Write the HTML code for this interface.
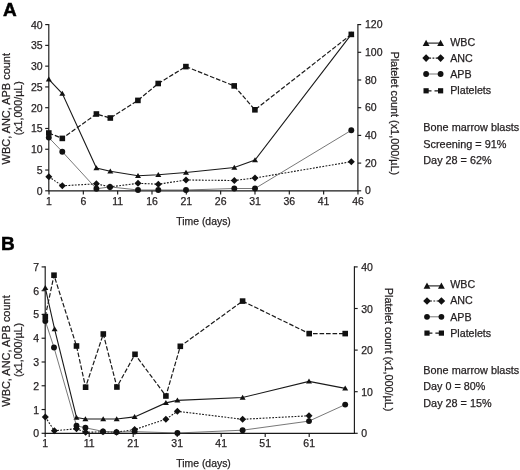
<!DOCTYPE html>
<html><head><meta charset="utf-8"><title>Figure</title>
<style>
html,body{margin:0;padding:0;background:#fff;}
body{width:520px;height:470px;overflow:hidden;}
svg{display:block;font-family:"Liberation Sans", sans-serif;fill:#231f20;will-change:transform;transform:translateZ(0);}
text{stroke:#231f20;stroke-width:0.25px;}
</style></head><body>
<svg width="520" height="470" viewBox="0 0 520 470">
<rect x="0" y="0" width="520" height="470" fill="#fff"/>
<text x="3.0" y="15.6" font-size="19" font-weight="bold" style="fill:#000;stroke:#000;stroke-width:0.5px">A</text>
<path d="M48.8 24.0 V190.8 H357.9 V24.0" fill="none" stroke="#1a1a1a" stroke-width="1.15"/>
<path d="M45.199999999999996 190.8 H48.8" stroke="#1a1a1a" stroke-width="1.15"/>
<text x="42.599999999999994" y="194.8" font-size="10.5" text-anchor="end">0</text>
<path d="M45.199999999999996 170.03 H48.8" stroke="#1a1a1a" stroke-width="1.15"/>
<text x="42.599999999999994" y="174.03" font-size="10.5" text-anchor="end">5</text>
<path d="M45.199999999999996 149.25 H48.8" stroke="#1a1a1a" stroke-width="1.15"/>
<text x="42.599999999999994" y="153.25" font-size="10.5" text-anchor="end">10</text>
<path d="M45.199999999999996 128.48 H48.8" stroke="#1a1a1a" stroke-width="1.15"/>
<text x="42.599999999999994" y="132.48" font-size="10.5" text-anchor="end">15</text>
<path d="M45.199999999999996 107.7 H48.8" stroke="#1a1a1a" stroke-width="1.15"/>
<text x="42.599999999999994" y="111.7" font-size="10.5" text-anchor="end">20</text>
<path d="M45.199999999999996 86.93 H48.8" stroke="#1a1a1a" stroke-width="1.15"/>
<text x="42.599999999999994" y="90.93" font-size="10.5" text-anchor="end">25</text>
<path d="M45.199999999999996 66.15 H48.8" stroke="#1a1a1a" stroke-width="1.15"/>
<text x="42.599999999999994" y="70.15" font-size="10.5" text-anchor="end">30</text>
<path d="M45.199999999999996 45.38 H48.8" stroke="#1a1a1a" stroke-width="1.15"/>
<text x="42.599999999999994" y="49.38" font-size="10.5" text-anchor="end">35</text>
<path d="M45.199999999999996 24.6 H48.8" stroke="#1a1a1a" stroke-width="1.15"/>
<text x="42.599999999999994" y="28.6" font-size="10.5" text-anchor="end">40</text>
<path d="M357.9 190.8 H361.2" stroke="#1a1a1a" stroke-width="1.15"/>
<text x="365.0" y="194.4" font-size="10.5">0</text>
<path d="M357.9 163.1 H361.2" stroke="#1a1a1a" stroke-width="1.15"/>
<text x="365.0" y="166.7" font-size="10.5">20</text>
<path d="M357.9 135.4 H361.2" stroke="#1a1a1a" stroke-width="1.15"/>
<text x="365.0" y="139.0" font-size="10.5">40</text>
<path d="M357.9 107.7 H361.2" stroke="#1a1a1a" stroke-width="1.15"/>
<text x="365.0" y="111.3" font-size="10.5">60</text>
<path d="M357.9 80.0 H361.2" stroke="#1a1a1a" stroke-width="1.15"/>
<text x="365.0" y="83.6" font-size="10.5">80</text>
<path d="M357.9 52.3 H361.2" stroke="#1a1a1a" stroke-width="1.15"/>
<text x="365.0" y="55.9" font-size="10.5">100</text>
<path d="M357.9 24.6 H361.2" stroke="#1a1a1a" stroke-width="1.15"/>
<text x="365.0" y="28.2" font-size="10.5">120</text>
<path d="M49.0 190.8 V194.4" stroke="#1a1a1a" stroke-width="1.15"/>
<text x="49.0" y="205.2" font-size="10.5" text-anchor="middle">1</text>
<path d="M83.33 190.8 V194.4" stroke="#1a1a1a" stroke-width="1.15"/>
<text x="83.33" y="205.2" font-size="10.5" text-anchor="middle">6</text>
<path d="M117.66 190.8 V194.4" stroke="#1a1a1a" stroke-width="1.15"/>
<text x="117.66" y="205.2" font-size="10.5" text-anchor="middle">11</text>
<path d="M151.99 190.8 V194.4" stroke="#1a1a1a" stroke-width="1.15"/>
<text x="151.99" y="205.2" font-size="10.5" text-anchor="middle">16</text>
<path d="M186.32 190.8 V194.4" stroke="#1a1a1a" stroke-width="1.15"/>
<text x="186.32" y="205.2" font-size="10.5" text-anchor="middle">21</text>
<path d="M220.65 190.8 V194.4" stroke="#1a1a1a" stroke-width="1.15"/>
<text x="220.65" y="205.2" font-size="10.5" text-anchor="middle">26</text>
<path d="M254.98 190.8 V194.4" stroke="#1a1a1a" stroke-width="1.15"/>
<text x="254.98" y="205.2" font-size="10.5" text-anchor="middle">31</text>
<path d="M289.31 190.8 V194.4" stroke="#1a1a1a" stroke-width="1.15"/>
<text x="289.31" y="205.2" font-size="10.5" text-anchor="middle">36</text>
<path d="M323.64 190.8 V194.4" stroke="#1a1a1a" stroke-width="1.15"/>
<text x="323.64" y="205.2" font-size="10.5" text-anchor="middle">41</text>
<path d="M357.97 190.8 V194.4" stroke="#1a1a1a" stroke-width="1.15"/>
<text x="357.97" y="205.2" font-size="10.5" text-anchor="middle">46</text>
<path d="M48.80 133.00 L62.30 138.40 L96.40 114.00 L110.30 118.00 L137.90 100.40 L158.20 83.50 L185.90 66.60 L234.20 85.90 L254.90 109.80 L351.30 34.40" fill="none" stroke="#1a1a1a" stroke-width="1.2" stroke-dasharray="4.6 1.9"/>
<rect x="46.00" y="130.20" width="5.6" height="5.6" fill="#111"/>
<rect x="59.50" y="135.60" width="5.6" height="5.6" fill="#111"/>
<rect x="93.60" y="111.20" width="5.6" height="5.6" fill="#111"/>
<rect x="107.50" y="115.20" width="5.6" height="5.6" fill="#111"/>
<rect x="135.10" y="97.60" width="5.6" height="5.6" fill="#111"/>
<rect x="155.40" y="80.70" width="5.6" height="5.6" fill="#111"/>
<rect x="183.10" y="63.80" width="5.6" height="5.6" fill="#111"/>
<rect x="231.40" y="83.10" width="5.6" height="5.6" fill="#111"/>
<rect x="252.10" y="107.00" width="5.6" height="5.6" fill="#111"/>
<rect x="348.50" y="31.60" width="5.6" height="5.6" fill="#111"/>
<path d="M48.80 79.40 L62.30 93.50 L96.40 168.00 L110.30 171.30 L138.00 175.80 L158.30 174.80 L186.00 172.50 L234.30 167.50 L255.00 160.00 L351.30 34.40" fill="none" stroke="#1a1a1a" stroke-width="1.1"/>
<path d="M48.80 76.60 L51.80 81.60 L45.80 81.60 Z" fill="#111"/>
<path d="M62.30 90.70 L65.30 95.70 L59.30 95.70 Z" fill="#111"/>
<path d="M96.40 165.20 L99.40 170.20 L93.40 170.20 Z" fill="#111"/>
<path d="M110.30 168.50 L113.30 173.50 L107.30 173.50 Z" fill="#111"/>
<path d="M138.00 173.00 L141.00 178.00 L135.00 178.00 Z" fill="#111"/>
<path d="M158.30 172.00 L161.30 177.00 L155.30 177.00 Z" fill="#111"/>
<path d="M186.00 169.70 L189.00 174.70 L183.00 174.70 Z" fill="#111"/>
<path d="M234.30 164.70 L237.30 169.70 L231.30 169.70 Z" fill="#111"/>
<path d="M255.00 157.20 L258.00 162.20 L252.00 162.20 Z" fill="#111"/>
<path d="M351.30 31.60 L354.30 36.60 L348.30 36.60 Z" fill="#111"/>
<path d="M48.80 176.80 L62.30 185.80 L96.40 183.80 L110.00 186.90 L138.00 183.30 L158.30 184.20 L186.00 180.00 L234.30 180.50 L255.00 178.00 L351.30 161.70" fill="none" stroke="#1a1a1a" stroke-width="1.1" stroke-dasharray="1.8 1.4"/>
<path d="M48.80 173.30 L52.30 176.80 L48.80 180.30 L45.30 176.80 Z" fill="#111"/>
<path d="M62.30 182.30 L65.80 185.80 L62.30 189.30 L58.80 185.80 Z" fill="#111"/>
<path d="M96.40 180.30 L99.90 183.80 L96.40 187.30 L92.90 183.80 Z" fill="#111"/>
<path d="M110.00 183.40 L113.50 186.90 L110.00 190.40 L106.50 186.90 Z" fill="#111"/>
<path d="M138.00 179.80 L141.50 183.30 L138.00 186.80 L134.50 183.30 Z" fill="#111"/>
<path d="M158.30 180.70 L161.80 184.20 L158.30 187.70 L154.80 184.20 Z" fill="#111"/>
<path d="M186.00 176.50 L189.50 180.00 L186.00 183.50 L182.50 180.00 Z" fill="#111"/>
<path d="M234.30 177.00 L237.80 180.50 L234.30 184.00 L230.80 180.50 Z" fill="#111"/>
<path d="M255.00 174.50 L258.50 178.00 L255.00 181.50 L251.50 178.00 Z" fill="#111"/>
<path d="M351.30 158.20 L354.80 161.70 L351.30 165.20 L347.80 161.70 Z" fill="#111"/>
<path d="M48.80 137.60 L62.30 151.70 L96.40 188.80 L110.00 186.90 L138.00 190.00 L158.30 190.00 L186.00 190.00 L234.30 188.50 L255.00 188.50 L351.30 130.30" fill="none" stroke="#555" stroke-width="0.8"/>
<circle cx="48.80" cy="137.60" r="2.95" fill="#111"/>
<circle cx="62.30" cy="151.70" r="2.95" fill="#111"/>
<circle cx="96.40" cy="188.80" r="2.95" fill="#111"/>
<circle cx="110.00" cy="186.90" r="2.95" fill="#111"/>
<circle cx="138.00" cy="190.00" r="2.95" fill="#111"/>
<circle cx="158.30" cy="190.00" r="2.95" fill="#111"/>
<circle cx="186.00" cy="190.00" r="2.95" fill="#111"/>
<circle cx="234.30" cy="188.50" r="2.95" fill="#111"/>
<circle cx="255.00" cy="188.50" r="2.95" fill="#111"/>
<circle cx="351.30" cy="130.30" r="2.95" fill="#111"/>
<text x="9.6" y="164.4" font-size="10.8" textLength="111.4" lengthAdjust="spacingAndGlyphs" transform="rotate(-90 9.6 164.4)">WBC, ANC, APB count</text>
<text x="22.0" y="135.35" font-size="10.8" textLength="54.1" lengthAdjust="spacingAndGlyphs" transform="rotate(-90 22.0 135.35)">(x1,000/µL)</text>
<text x="391.1" y="51.5" font-size="10.8" textLength="123.6" lengthAdjust="spacingAndGlyphs" transform="rotate(90 391.1 51.5)">Platelet count (x1,000/µL)</text>
<text x="176.3" y="225.1" font-size="10.8" textLength="54.5" lengthAdjust="spacingAndGlyphs">Time (days)</text>
<path d="M426.1 43.1 H440.6" stroke="#1a1a1a" stroke-width="1.1"/>
<path d="M426.10 39.70 L429.50 45.90 L422.70 45.90 Z" fill="#111"/>
<path d="M440.60 39.70 L444.00 45.90 L437.20 45.90 Z" fill="#111"/>
<text x="450.2" y="45.9" font-size="10.7">WBC</text>
<path d="M426.1 58.1 H440.6" stroke="#1a1a1a" stroke-width="1.1" stroke-dasharray="1.8 1.4"/>
<path d="M426.10 54.30 L429.90 58.10 L426.10 61.90 L422.30 58.10 Z" fill="#111"/>
<path d="M440.60 54.30 L444.40 58.10 L440.60 61.90 L436.80 58.10 Z" fill="#111"/>
<text x="450.2" y="61.95" font-size="10.7">ANC</text>
<path d="M426.1 74.0 H440.6" stroke="#555" stroke-width="0.8"/>
<circle cx="426.10" cy="74.00" r="2.9" fill="#111"/>
<circle cx="440.60" cy="74.00" r="2.9" fill="#111"/>
<text x="450.2" y="78.0" font-size="10.7">APB</text>
<path d="M426.1 90.8 H440.6" stroke="#1a1a1a" stroke-width="1.2" stroke-dasharray="5.4 3 10"/>
<rect x="423.50" y="88.20" width="5.2" height="5.2" fill="#111"/>
<rect x="438.00" y="88.20" width="5.2" height="5.2" fill="#111"/>
<text x="450.2" y="94.05" font-size="10.7">Platelets</text>
<text x="423.3" y="131.3" font-size="10.7" textLength="96.0" lengthAdjust="spacingAndGlyphs">Bone marrow blasts</text>
<text x="423.3" y="147.6" font-size="10.7" textLength="83.2" lengthAdjust="spacingAndGlyphs">Screening = 91%</text>
<text x="423.3" y="163.7" font-size="10.7" textLength="68.3" lengthAdjust="spacingAndGlyphs">Day 28 = 62%</text>
<text x="0.9" y="250.4" font-size="19" font-weight="bold" style="fill:#000;stroke:#000;stroke-width:0.5px">B</text>
<path d="M45.2 266.29999999999995 V433.3 H354.4 V266.29999999999995" fill="none" stroke="#1a1a1a" stroke-width="1.15"/>
<path d="M41.6 433.3 H45.2" stroke="#1a1a1a" stroke-width="1.15"/>
<text x="39.0" y="437.3" font-size="10.5" text-anchor="end">0</text>
<path d="M41.6 409.53 H45.2" stroke="#1a1a1a" stroke-width="1.15"/>
<text x="39.0" y="413.53" font-size="10.5" text-anchor="end">1</text>
<path d="M41.6 385.76 H45.2" stroke="#1a1a1a" stroke-width="1.15"/>
<text x="39.0" y="389.76" font-size="10.5" text-anchor="end">2</text>
<path d="M41.6 361.99 H45.2" stroke="#1a1a1a" stroke-width="1.15"/>
<text x="39.0" y="365.99" font-size="10.5" text-anchor="end">3</text>
<path d="M41.6 338.22 H45.2" stroke="#1a1a1a" stroke-width="1.15"/>
<text x="39.0" y="342.22" font-size="10.5" text-anchor="end">4</text>
<path d="M41.6 314.45 H45.2" stroke="#1a1a1a" stroke-width="1.15"/>
<text x="39.0" y="318.45" font-size="10.5" text-anchor="end">5</text>
<path d="M41.6 290.68 H45.2" stroke="#1a1a1a" stroke-width="1.15"/>
<text x="39.0" y="294.68" font-size="10.5" text-anchor="end">6</text>
<path d="M41.6 266.91 H45.2" stroke="#1a1a1a" stroke-width="1.15"/>
<text x="39.0" y="270.91" font-size="10.5" text-anchor="end">7</text>
<path d="M354.4 433.3 H357.7" stroke="#1a1a1a" stroke-width="1.15"/>
<text x="361.2" y="437.4" font-size="10.5">0</text>
<path d="M354.4 391.7 H357.7" stroke="#1a1a1a" stroke-width="1.15"/>
<text x="361.2" y="395.8" font-size="10.5">10</text>
<path d="M354.4 350.1 H357.7" stroke="#1a1a1a" stroke-width="1.15"/>
<text x="361.2" y="354.2" font-size="10.5">20</text>
<path d="M354.4 308.5 H357.7" stroke="#1a1a1a" stroke-width="1.15"/>
<text x="361.2" y="312.6" font-size="10.5">30</text>
<path d="M354.4 266.9 H357.7" stroke="#1a1a1a" stroke-width="1.15"/>
<text x="361.2" y="271.0" font-size="10.5">40</text>
<path d="M45.2 433.3 V436.90000000000003" stroke="#1a1a1a" stroke-width="1.15"/>
<text x="45.2" y="447.1" font-size="10.5" text-anchor="middle">1</text>
<path d="M89.2 433.3 V436.90000000000003" stroke="#1a1a1a" stroke-width="1.15"/>
<text x="89.2" y="447.1" font-size="10.5" text-anchor="middle">11</text>
<path d="M133.2 433.3 V436.90000000000003" stroke="#1a1a1a" stroke-width="1.15"/>
<text x="133.2" y="447.1" font-size="10.5" text-anchor="middle">21</text>
<path d="M177.2 433.3 V436.90000000000003" stroke="#1a1a1a" stroke-width="1.15"/>
<text x="177.2" y="447.1" font-size="10.5" text-anchor="middle">31</text>
<path d="M221.2 433.3 V436.90000000000003" stroke="#1a1a1a" stroke-width="1.15"/>
<text x="221.2" y="447.1" font-size="10.5" text-anchor="middle">41</text>
<path d="M265.2 433.3 V436.90000000000003" stroke="#1a1a1a" stroke-width="1.15"/>
<text x="265.2" y="447.1" font-size="10.5" text-anchor="middle">51</text>
<path d="M309.2 433.3 V436.90000000000003" stroke="#1a1a1a" stroke-width="1.15"/>
<text x="309.2" y="447.1" font-size="10.5" text-anchor="middle">61</text>
<path d="M45.30 316.60 L54.00 275.20 L76.50 346.00 L85.60 387.20 L103.30 334.00 L116.90 387.00 L135.00 354.30 L165.90 396.00 L180.30 346.30 L242.60 301.10 L309.20 333.60 L345.20 333.60" fill="none" stroke="#1a1a1a" stroke-width="1.2" stroke-dasharray="4.6 1.9"/>
<rect x="42.50" y="313.80" width="5.6" height="5.6" fill="#111"/>
<rect x="51.20" y="272.40" width="5.6" height="5.6" fill="#111"/>
<rect x="73.70" y="343.20" width="5.6" height="5.6" fill="#111"/>
<rect x="82.80" y="384.40" width="5.6" height="5.6" fill="#111"/>
<rect x="100.50" y="331.20" width="5.6" height="5.6" fill="#111"/>
<rect x="114.10" y="384.20" width="5.6" height="5.6" fill="#111"/>
<rect x="132.20" y="351.50" width="5.6" height="5.6" fill="#111"/>
<rect x="163.10" y="393.20" width="5.6" height="5.6" fill="#111"/>
<rect x="177.50" y="343.50" width="5.6" height="5.6" fill="#111"/>
<rect x="239.80" y="298.30" width="5.6" height="5.6" fill="#111"/>
<rect x="306.40" y="330.80" width="5.6" height="5.6" fill="#111"/>
<rect x="342.40" y="330.80" width="5.6" height="5.6" fill="#111"/>
<path d="M45.30 287.90 L54.60 329.10 L76.50 417.50 L85.40 419.00 L103.20 419.00 L116.70 419.00 L134.60 416.90 L165.90 402.90 L177.40 400.40 L242.60 397.50 L309.00 381.40 L345.20 388.40" fill="none" stroke="#1a1a1a" stroke-width="1.1"/>
<path d="M45.30 285.10 L48.30 290.10 L42.30 290.10 Z" fill="#111"/>
<path d="M54.60 326.30 L57.60 331.30 L51.60 331.30 Z" fill="#111"/>
<path d="M76.50 414.70 L79.50 419.70 L73.50 419.70 Z" fill="#111"/>
<path d="M85.40 416.20 L88.40 421.20 L82.40 421.20 Z" fill="#111"/>
<path d="M103.20 416.20 L106.20 421.20 L100.20 421.20 Z" fill="#111"/>
<path d="M116.70 416.20 L119.70 421.20 L113.70 421.20 Z" fill="#111"/>
<path d="M134.60 414.10 L137.60 419.10 L131.60 419.10 Z" fill="#111"/>
<path d="M165.90 400.10 L168.90 405.10 L162.90 405.10 Z" fill="#111"/>
<path d="M177.40 397.60 L180.40 402.60 L174.40 402.60 Z" fill="#111"/>
<path d="M242.60 394.70 L245.60 399.70 L239.60 399.70 Z" fill="#111"/>
<path d="M309.00 378.60 L312.00 383.60 L306.00 383.60 Z" fill="#111"/>
<path d="M345.20 385.60 L348.20 390.60 L342.20 390.60 Z" fill="#111"/>
<path d="M45.30 417.00 L54.40 430.80 L76.50 428.70 L85.60 432.30 L103.00 431.80 L116.50 432.20 L134.60 429.60 L165.90 419.20 L177.40 411.30 L242.60 419.30 L309.00 415.80" fill="none" stroke="#1a1a1a" stroke-width="1.1" stroke-dasharray="1.8 1.4"/>
<path d="M45.30 413.50 L48.80 417.00 L45.30 420.50 L41.80 417.00 Z" fill="#111"/>
<path d="M54.40 427.30 L57.90 430.80 L54.40 434.30 L50.90 430.80 Z" fill="#111"/>
<path d="M76.50 425.20 L80.00 428.70 L76.50 432.20 L73.00 428.70 Z" fill="#111"/>
<path d="M85.60 428.80 L89.10 432.30 L85.60 435.80 L82.10 432.30 Z" fill="#111"/>
<path d="M103.00 428.30 L106.50 431.80 L103.00 435.30 L99.50 431.80 Z" fill="#111"/>
<path d="M116.50 428.70 L120.00 432.20 L116.50 435.70 L113.00 432.20 Z" fill="#111"/>
<path d="M134.60 426.10 L138.10 429.60 L134.60 433.10 L131.10 429.60 Z" fill="#111"/>
<path d="M165.90 415.70 L169.40 419.20 L165.90 422.70 L162.40 419.20 Z" fill="#111"/>
<path d="M177.40 407.80 L180.90 411.30 L177.40 414.80 L173.90 411.30 Z" fill="#111"/>
<path d="M242.60 415.80 L246.10 419.30 L242.60 422.80 L239.10 419.30 Z" fill="#111"/>
<path d="M309.00 412.30 L312.50 415.80 L309.00 419.30 L305.50 415.80 Z" fill="#111"/>
<path d="M45.30 321.00 L54.00 347.50 L76.50 425.80 L85.40 427.80 L103.00 431.40 L116.50 432.10 L134.60 431.60 L177.40 433.00 L242.60 430.20 L309.00 421.10 L345.20 404.60" fill="none" stroke="#555" stroke-width="0.8"/>
<circle cx="45.30" cy="321.00" r="2.95" fill="#111"/>
<circle cx="54.00" cy="347.50" r="2.95" fill="#111"/>
<circle cx="76.50" cy="425.80" r="2.95" fill="#111"/>
<circle cx="85.40" cy="427.80" r="2.95" fill="#111"/>
<circle cx="103.00" cy="431.40" r="2.95" fill="#111"/>
<circle cx="116.50" cy="432.10" r="2.95" fill="#111"/>
<circle cx="134.60" cy="431.60" r="2.95" fill="#111"/>
<circle cx="177.40" cy="433.00" r="2.95" fill="#111"/>
<circle cx="242.60" cy="430.20" r="2.95" fill="#111"/>
<circle cx="309.00" cy="421.10" r="2.95" fill="#111"/>
<circle cx="345.20" cy="404.60" r="2.95" fill="#111"/>
<text x="9.6" y="406.7" font-size="10.8" textLength="111.4" lengthAdjust="spacingAndGlyphs" transform="rotate(-90 9.6 406.7)">WBC, ANC, APB count</text>
<text x="22.0" y="377.05" font-size="10.8" textLength="54.1" lengthAdjust="spacingAndGlyphs" transform="rotate(-90 22.0 377.05)">(x1,000/µL)</text>
<text x="385.0" y="287.8" font-size="10.8" textLength="123.6" lengthAdjust="spacingAndGlyphs" transform="rotate(90 385.0 287.8)">Platelet count (x1,000/µL)</text>
<text x="176.3" y="467.1" font-size="10.8" textLength="54.5" lengthAdjust="spacingAndGlyphs">Time (days)</text>
<path d="M427.0 285.9 H441.4" stroke="#1a1a1a" stroke-width="1.1"/>
<path d="M427.00 282.50 L430.40 288.70 L423.60 288.70 Z" fill="#111"/>
<path d="M441.40 282.50 L444.80 288.70 L438.00 288.70 Z" fill="#111"/>
<text x="450.2" y="288.4" font-size="10.7">WBC</text>
<path d="M427.0 301.0 H441.4" stroke="#1a1a1a" stroke-width="1.1" stroke-dasharray="1.8 1.4"/>
<path d="M427.00 297.20 L430.80 301.00 L427.00 304.80 L423.20 301.00 Z" fill="#111"/>
<path d="M441.40 297.20 L445.20 301.00 L441.40 304.80 L437.60 301.00 Z" fill="#111"/>
<text x="450.2" y="304.45" font-size="10.7">ANC</text>
<path d="M427.0 316.8 H441.4" stroke="#555" stroke-width="0.8"/>
<circle cx="427.00" cy="316.80" r="2.9" fill="#111"/>
<circle cx="441.40" cy="316.80" r="2.9" fill="#111"/>
<text x="450.2" y="320.5" font-size="10.7">APB</text>
<path d="M427.0 333.1 H441.4" stroke="#1a1a1a" stroke-width="1.2" stroke-dasharray="5.4 3 10"/>
<rect x="424.40" y="330.50" width="5.2" height="5.2" fill="#111"/>
<rect x="438.80" y="330.50" width="5.2" height="5.2" fill="#111"/>
<text x="450.2" y="336.55" font-size="10.7">Platelets</text>
<text x="423.3" y="374.0" font-size="10.7" textLength="96.0" lengthAdjust="spacingAndGlyphs">Bone marrow blasts</text>
<text x="423.3" y="390.3" font-size="10.7" textLength="62.0" lengthAdjust="spacingAndGlyphs">Day 0 = 80%</text>
<text x="423.3" y="406.5" font-size="10.7" textLength="68.3" lengthAdjust="spacingAndGlyphs">Day 28 = 15%</text>
</svg>
</body></html>
